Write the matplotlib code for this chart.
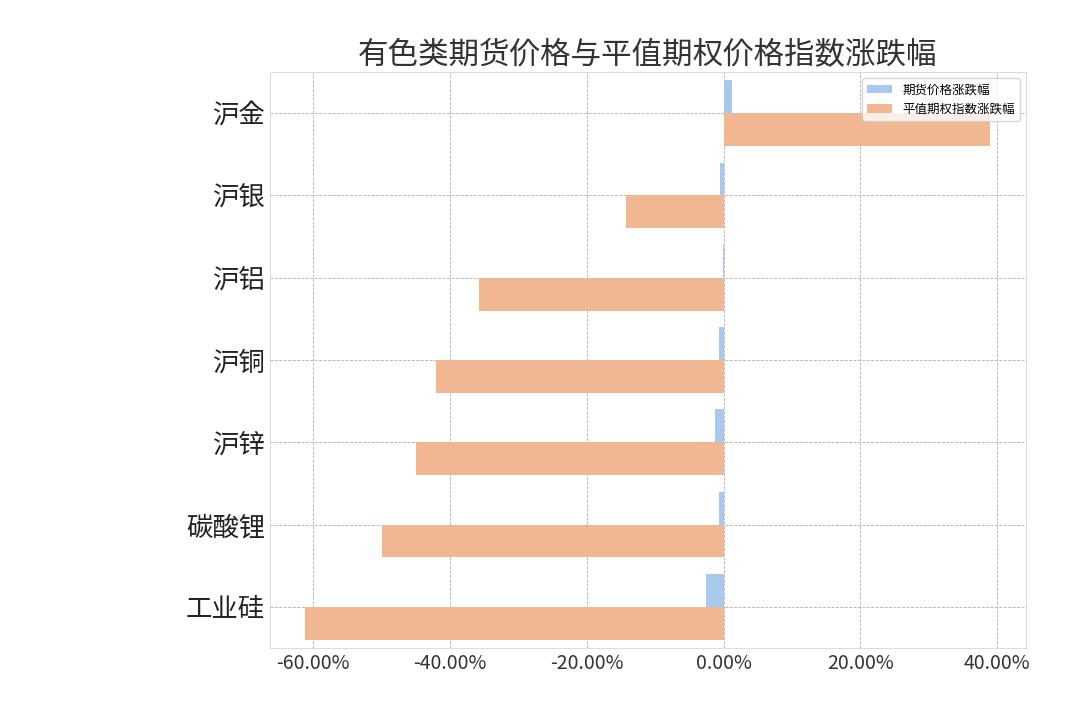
import matplotlib
matplotlib.use("Agg")
import matplotlib.pyplot as plt
import numpy as np
from matplotlib.ticker import FuncFormatter

plt.rcParams["font.family"] = "sans-serif"
plt.rcParams["font.sans-serif"] = ["Noto Sans CJK SC", "Noto Sans CJK JP", "DejaVu Sans"]
plt.rcParams["axes.unicode_minus"] = False

categories = ["沪金", "沪银", "沪铝", "沪铜", "沪锌", "碳酸锂", "工业硅"]
futures_chg = [1.3, -0.5, -0.1, -0.7, -1.2, -0.6, -2.5]
option_chg = [39.0, -14.3, -35.8, -42.0, -45.0, -50.0, -61.2]

fig = plt.figure(figsize=(10.8, 7.2), dpi=100)
ax = fig.add_axes([0.25, 0.10, 0.70, 0.80])

y = np.arange(len(categories))
h = 0.4
ax.barh(y - h / 2, futures_chg, height=h, color="#a9c8ee", label="期货价格涨跌幅", zorder=3)
ax.barh(y + h / 2, option_chg, height=h, color="#f0b792", label="平值期权指数涨跌幅", zorder=3)

ax.set_yticks(y)
ax.set_yticklabels(categories, fontsize=19, color="#222222")
ax.set_ylim(len(categories) - 0.5, -0.5)
ax.set_xlim(-66.3, 44.2)
ax.set_xticks([-60, -40, -20, 0, 20, 40])
ax.xaxis.set_major_formatter(FuncFormatter(lambda v, p: f"{v:.2f}%"))
ax.tick_params(axis="x", labelsize=14, colors="#333333")
ax.tick_params(length=0)
ax.grid(True, linestyle="--", linewidth=0.6, color="#b0b0b0", zorder=0)
for s in ax.spines.values():
    s.set_color("#dddddd")

ax.set_title("有色类期货价格与平值期权价格指数涨跌幅", fontsize=22, color="#333333")
ax.legend(loc="upper right", fontsize=9, frameon=True)

fig.savefig("out.png")
